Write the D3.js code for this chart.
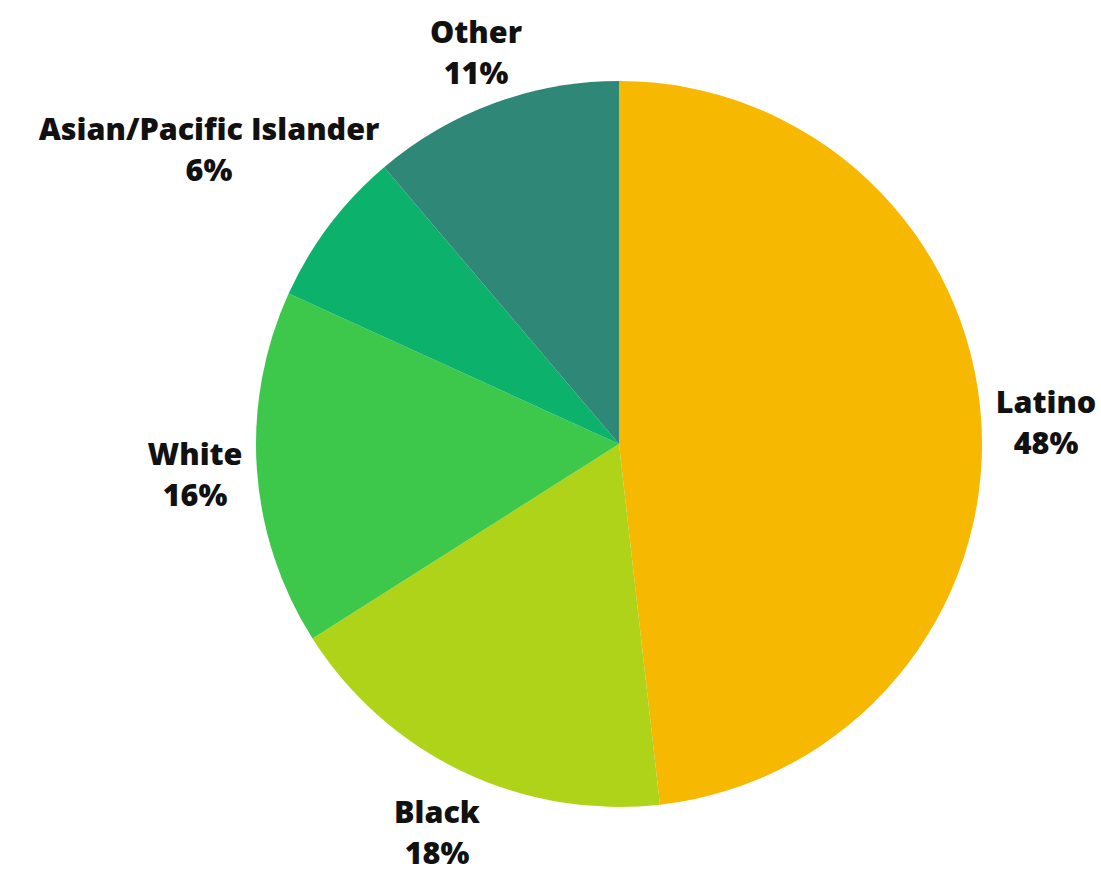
<!DOCTYPE html>
<html><head><meta charset="utf-8">
<script src="https://cdn.jsdelivr.net/npm/d3@7"></script>
<style>body{margin:0;background:#fff}svg{display:block}</style>
</head><body>
<svg id="c" width="1101" height="879"></svg>
<script>
const categories = ["Latino", "Black", "White", "Asian/Pacific Islander", "Other"];
const values = [48.2, 17.8, 15.8, 7.0, 11.2];
const pctLabels = ["48%", "18%", "16%", "6%", "11%"];
const colors = ["#F6B800", "#AFD318", "#3DC74B", "#0CB16B", "#2E8777"];

const svg = d3.select("#c");
const cx = 619, cy = 444, r = 363;
const g = svg.append("g").attr("transform", `translate(${cx},${cy})`);
const pie = d3.pie().sort(null).value(d => d.v);
const data = categories.map((c, i) => ({c, v: values[i], p: pctLabels[i], col: colors[i]}));
const arcs = pie(data);
const arc = d3.arc().innerRadius(0).outerRadius(r);
g.selectAll("path").data(arcs).join("path").attr("d", arc).attr("fill", d => d.data.col);

const labelPos = {
  "Latino": [1046, 405],
  "Black": [437, 815],
  "White": [195, 457],
  "Asian/Pacific Islander": [209, 132],
  "Other": [476, 35]
};
const lg = svg.append("g").attr("font-family", "'Open Sans', sans-serif").attr("font-weight", 800).attr("font-size", 30.5).attr("fill", "#111").attr("text-anchor", "middle");
arcs.forEach(a => {
  const [x, y] = labelPos[a.data.c];
  const t = lg.append("text").attr("x", x).attr("y", y).attr("dominant-baseline", "middle");
  t.append("tspan").attr("x", x).text(a.data.c);
  t.append("tspan").attr("x", x).attr("dy", 41).text(a.data.p);
});
</script>
</body></html>
